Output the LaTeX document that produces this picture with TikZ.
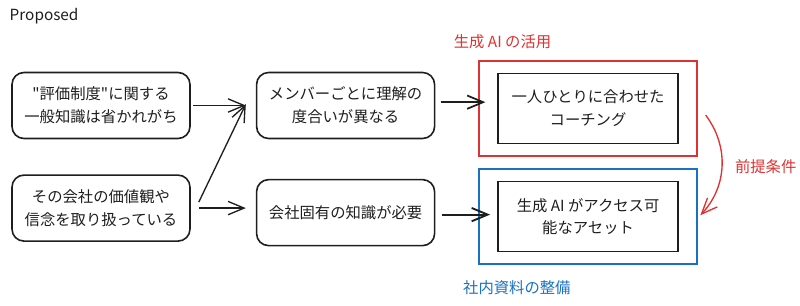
\documentclass[tikz,border=0pt]{standalone}
\usepackage{fontspec}
\setmainfont{Noto Sans CJK JP}
\usetikzlibrary{positioning, arrows.meta, fit}

\definecolor{ink}{HTML}{1E1E1E}
\definecolor{xred}{HTML}{E03131}
\definecolor{xblue}{HTML}{1971C2}

\tikzset{
    card/.style={draw=ink, line width=1.2pt, rounded corners=9pt, align=center,
        minimum width=133.5pt, minimum height=49.5pt},
    target/.style={draw=ink, line width=1pt, align=center,
        minimum width=135pt, minimum height=52.5pt},
    frame/.style={line width=1.4pt, inner xsep=13.5pt, inner ysep=9pt},
    arr/.style={draw=ink, line width=1pt, -{Straight Barb[length=12pt, width=10pt]}},
}

\begin{document}
\begin{tikzpicture}[x=0.75pt, y=-0.75pt,
    every node/.style={font=\fontsize{11.5pt}{17pt}\selectfont, text=ink}]
    \useasboundingbox (0,0) rectangle (800,306);

    % Title
    \node (title) [anchor=west] at (5,16) {Proposed};

    % Causes
    \node (eval) [card] at (101,105.5) {\textquotedbl 評価制度\textquotedbl に関する\\一般知識は省かれがち};
    \node (value) [card, below=26.25pt of eval] {その会社の価値観や\\信念を取り扱っている};

    % Needs
    \node (gap) [card, right=48.75pt of eval] {メンバーごとに理解の\\度合いが異なる};
    \node (know) [card, right=48.75pt of value, yshift=-3.4pt] {会社固有の知識が必要};

    % Answers
    \node (coach) [target, right=46.5pt of gap, yshift=-2.2pt] {一人ひとりに合わせた\\コーチング};
    \node (asset) [target, right=46.5pt of know, yshift=-3pt] {生成 AI がアクセス可\\能なアセット};

    % Frames
    \node (aiuse) [frame, draw=xred, fit=(coach)] {};
    \node (docs) [frame, draw=xblue, fit=(asset)] {};
    \node (aiusetag) [above=5pt of aiuse.north west, anchor=south west, xshift=-22pt, text=xred] {生成 AI の活用};
    \node (docstag) [below=8pt of docs.south west, anchor=north west, xshift=-15pt, text=xblue] {社内資料の整備};

    % Edges
    \draw[arr] ([xshift=2pt]eval.east) -- ([xshift=-7.5pt]eval.east -| gap.west);
    \draw[arr] ([xshift=6pt, yshift=4.5pt]value.east) -- ([xshift=-7.5pt, yshift=1pt]gap.west);
    \draw[arr] ([xshift=6pt]value.east) -- ([xshift=-7.5pt]value.east -| know.west);
    \draw[arr, line width=1.3pt] ([xshift=4pt, yshift=2.5pt]gap.east) -- ([xshift=-9pt, yshift=2.5pt]gap.east -| coach.west);
    \draw[arr, line width=1.4pt] ([xshift=5pt, yshift=-1.5pt]know.east) -- ([xshift=-5.5pt, yshift=-1.5pt]know.east -| asset.west);

    % Precondition
    \coordinate (pre-s) at ([xshift=6pt, yshift=-5pt]aiuse.east);
    \coordinate (pre-e) at ([xshift=2pt, yshift=1pt]docs.east);
    \draw[arr, draw=xred] (pre-s) to[bend left=40] node (pretag) [midway, right=6pt, text=xred] {前提条件} (pre-e);
\end{tikzpicture}
\end{document}
